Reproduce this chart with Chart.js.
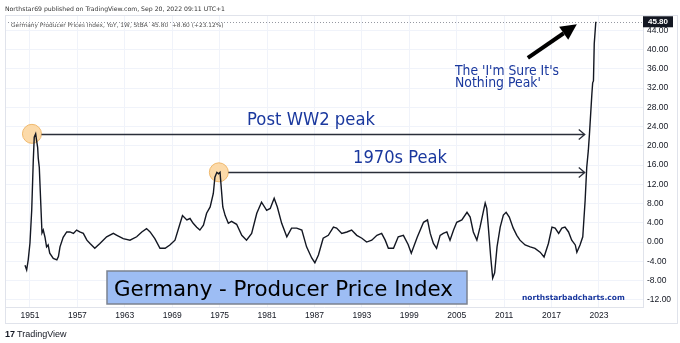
<!DOCTYPE html>
<html>
<head>
<meta charset="utf-8">
<title>Germany - Producer Price Index</title>
<script src="https://cdn.jsdelivr.net/npm/chart.js@4.4.0/dist/chart.umd.min.js"></script>
<style>
  html, body { margin: 0; padding: 0; background: #ffffff; }
  #wrap { width: 680px; height: 343px; position: relative; }
</style>
</head>
<body>
<div id="wrap"><canvas id="ppiChart" width="680" height="343"></canvas></div>
<script>
// Germany Producer Prices Index, YoY (%)
const years = [
  1950.37, 1950.58, 1950.78, 1951.0, 1951.22, 1951.42, 1951.54, 1951.72, 1951.85, 1951.97,
  1952.05, 1952.18, 1952.35, 1952.52, 1952.68, 1952.9, 1953.1, 1953.3, 1953.5, 1953.95,
  1954.4, 1954.6, 1954.8, 1955.2, 1955.65, 1956.05, 1956.5, 1956.9, 1957.3, 1957.75,
  1958.2, 1958.6, 1959.2, 1959.85, 1960.7, 1961.55, 1962.0, 1962.8, 1963.65, 1964.5,
  1965.15, 1965.75, 1966.2, 1966.8, 1967.45, 1968.1, 1968.7, 1969.35, 1970.0, 1970.3,
  1970.85, 1971.25, 1971.65, 1972.1, 1972.5, 1972.95, 1973.35, 1973.8, 1974.2, 1974.4,
  1974.65, 1974.85, 1975.05, 1975.2, 1975.4, 1975.7, 1976.1, 1976.5, 1977.15, 1977.8,
  1978.4, 1979.05, 1979.7, 1980.3, 1980.95, 1981.4, 1981.9, 1982.3, 1982.85, 1983.5,
  1984.1, 1984.75, 1985.4, 1986.0, 1986.65, 1987.05, 1987.5, 1988.1, 1988.75, 1989.4,
  1989.8, 1990.45, 1991.1, 1991.7, 1992.35, 1993.0, 1993.6, 1994.25, 1994.9, 1995.5,
  1995.95, 1996.35, 1997.0, 1997.6, 1998.25, 1998.85, 1999.25, 2000.0, 2000.8, 2001.3,
  2001.65, 2002.05, 2002.45, 2002.9, 2003.3, 2003.75, 2004.15, 2004.6, 2005.0, 2005.65,
  2006.3, 2006.7, 2007.1, 2007.55, 2007.95, 2008.4, 2008.6, 2008.8, 2009.0, 2009.3,
  2009.55, 2009.8, 2010.1, 2010.5, 2010.9, 2011.25, 2011.65, 2012.15, 2012.6, 2013.0,
  2013.65, 2014.3, 2014.9, 2015.55, 2016.05, 2016.6, 2017.05, 2017.45, 2017.9, 2018.3,
  2018.7, 2019.15, 2019.55, 2020.0, 2020.2, 2020.6, 2020.95, 2021.25, 2021.45, 2021.65,
  2021.8, 2022.1, 2022.2, 2022.3, 2022.4, 2022.6
];
const ppi = [
  -4.8, -5.8, -3.7, -0.2, 6.6, 17.0, 21.8, 22.5, 21.0, 19.7,
  17.4, 15.5, 8.7, 1.9, 2.5, 1.0, -1.0, -0.6, -2.3, -3.4,
  -3.7, -3.0, -1.0, 1.0, 2.1, 2.1, 1.8, 2.5, 2.1, 1.8,
  0.4, -0.3, -1.3, -0.3, 1.1, 1.8, 1.4, 0.7, 0.4, 1.1,
  2.1, 2.8, 2.1, 0.7, -1.3, -1.3, -0.6, 0.4, 3.9, 5.5,
  4.6, 4.9, 3.9, 3.1, 2.5, 3.5, 6.0, 7.3, 10.1, 13.5,
  14.5, 14.2, 14.5, 11.4, 7.3, 5.5, 3.9, 4.3, 3.7, 1.4,
  0.4, 1.8, 6.0, 8.3, 6.6, 7.0, 9.1, 7.3, 3.9, 1.1,
  2.9, 2.9, 2.5, -1.0, -3.3, -4.3, -2.7, 0.8, 1.4, 3.1,
  2.9, 1.8, 2.1, 2.5, 1.4, 0.8, 0.0, 0.4, 1.4, 1.8,
  0.4, -1.3, -1.3, 1.1, 1.4, -0.5, -2.3, 1.0, 4.1, 4.6,
  1.8, -0.3, -1.3, 1.4, 1.8, 2.1, 0.4, 2.5, 4.1, 4.6,
  6.2, 5.2, 2.1, 0.4, 3.1, 6.6, 8.1, 7.0, 3.1, -3.1,
  -7.5, -6.4, -1.0, 3.1, 5.6, 6.2, 5.2, 2.9, 1.4, 0.4,
  -0.6, -1.0, -1.3, -2.1, -3.1, -0.3, 3.1, 2.9, 1.8, 2.9,
  3.1, 2.1, 0.4, -0.6, -2.1, -0.6, 1.1, 8.7, 15.5, 19.0,
  22.6, 30.8, 33.1, 33.5, 41.2, 45.8
];

const yearTicks = [1951, 1957, 1963, 1969, 1975, 1981, 1987, 1993, 1999, 2005, 2011, 2017, 2023];
const priceTicks = [-12, -8, -4, 0, 4, 8, 12, 16, 20, 24, 28, 32, 36, 40, 44];
const lastValue = 45.80;

// highlighted peaks (circle centre year, level) and where their arrows end
const circleYears = [1951.25, 1974.9];
const circleLevels = [22.5, 14.5];
const arrowEndYear = 2021.2;
// thick arrow pointing at the latest reading: tail and tip
const bigArrowYears = [2014.0, 2020.2];
const bigArrowLevels = [38.3, 45.3];

const BLUE = '#1a389e';
const FONT = "'DejaVu Sans', Verdana, sans-serif";

// draw text at a given font size, squeezed sideways to the wanted width
function drawSized(ctx, text, left, baseline, width, size, weight, color) {
    ctx.save();
    ctx.font = `${weight} ${size}px ${FONT}`;
    const sx = width / ctx.measureText(text).width;
    ctx.translate(left, baseline);
    ctx.scale(sx, 1);
    ctx.fillStyle = color;
    ctx.textAlign = 'left';
    ctx.textBaseline = 'alphabetic';
    ctx.fillText(text, 0, 0);
    ctx.restore();
}

function drawFitted(ctx, text, left, baseline, width, weight, color) {
    ctx.font = `${weight} 100px ${FONT}`;
    const size = 100 * width / ctx.measureText(text).width;
    ctx.font = `${weight} ${size.toFixed(2)}px ${FONT}`;
    ctx.fillStyle = color;
    ctx.textAlign = 'left';
    ctx.textBaseline = 'alphabetic';
    ctx.fillText(text, left, baseline);
}

const annotations = {
    id: 'annotations',
    beforeDatasetsDraw(chart) {
        const { ctx, chartArea, scales: { x, y } } = chart;
        ctx.save();

        // dotted last-price line
        ctx.setLineDash([1, 2]);
        ctx.strokeStyle = '#9598a1';
        ctx.lineWidth = 1;
        ctx.beginPath();
        const ly = Math.round(y.getPixelForValue(lastValue)) + 0.5;
        ctx.moveTo(chartArea.left, ly);
        ctx.lineTo(chartArea.right, ly);
        ctx.stroke();
        ctx.setLineDash([]);

        // peak circles (under the line)
        circleYears.forEach((yr, i) => {
            ctx.beginPath();
            ctx.arc(x.getPixelForValue(yr), y.getPixelForValue(circleLevels[i]), 9.5, 0, Math.PI * 2);
            ctx.fillStyle = 'rgba(252, 214, 160, 0.9)';
            ctx.fill();
            ctx.strokeStyle = '#efb86c';
            ctx.lineWidth = 1;
            ctx.stroke();
        });
        ctx.restore();
    },
    afterDatasetsDraw(chart) {
        const { ctx, scales: { x, y } } = chart;
        ctx.save();

        // horizontal arrows from the peaks
        const endX = x.getPixelForValue(arrowEndYear);
        circleYears.forEach((yr, i) => {
            const py = Math.round(y.getPixelForValue(circleLevels[i])) + 0.5;
            const startX = x.getPixelForValue(yr) + 9.5;
            ctx.strokeStyle = '#2a2e39';
            ctx.lineWidth = 1.3;
            ctx.beginPath();
            ctx.moveTo(startX, py);
            ctx.lineTo(endX, py);
            ctx.moveTo(endX - 6, py - 5);
            ctx.lineTo(endX, py);
            ctx.lineTo(endX - 6, py + 5);
            ctx.stroke();
        });

        // thick arrow
        const tx = x.getPixelForValue(bigArrowYears[0]);
        const ty = y.getPixelForValue(bigArrowLevels[0]);
        const hx = x.getPixelForValue(bigArrowYears[1]);
        const hy = y.getPixelForValue(bigArrowLevels[1]);
        const ang = Math.atan2(hy - ty, hx - tx);
        const headLen = 16, headW = 8;
        const bx = hx - headLen * Math.cos(ang), by = hy - headLen * Math.sin(ang);
        ctx.strokeStyle = '#000';
        ctx.lineWidth = 4;
        ctx.beginPath();
        ctx.moveTo(tx, ty);
        ctx.lineTo(bx, by);
        ctx.stroke();
        ctx.fillStyle = '#000';
        ctx.beginPath();
        ctx.moveTo(hx, hy);
        ctx.lineTo(bx + headW * Math.sin(ang), by - headW * Math.cos(ang));
        ctx.lineTo(bx - headW * Math.sin(ang), by + headW * Math.cos(ang));
        ctx.closePath();
        ctx.fill();

        // texts
        drawSized(ctx, 'Post WW2 peak', 247, 125, 128, 17.5, 'normal', BLUE);
        drawSized(ctx, '1970s Peak', 353, 163, 94, 18, 'normal', BLUE);
        drawSized(ctx, "The 'I'm Sure It's", 455, 75, 104, 14.5, 'normal', BLUE);
        drawSized(ctx, "Nothing Peak'", 455, 87, 86, 14.5, 'normal', BLUE);

        // title box
        ctx.fillStyle = '#9dbdf4';
        ctx.fillRect(107, 271, 360, 33);
        ctx.strokeStyle = '#7b8290';
        ctx.lineWidth = 1.5;
        ctx.strokeRect(107, 271, 360, 33);
        drawSized(ctx, 'Germany - Producer Price Index', 114, 296, 339, 21.5, 'normal', '#000');

        drawFitted(ctx, 'northstarbadcharts.com', 522, 300, 103, 'bold', BLUE);
        ctx.restore();
    },
    afterDraw(chart) {
        const { ctx, scales: { y } } = chart;
        ctx.save();
        // panel frame
        ctx.strokeStyle = '#e0e3eb';
        ctx.lineWidth = 1;
        ctx.strokeRect(5.5, 15.5, 672, 308);

        // header and legend
        drawFitted(ctx, 'Northstar69 published on TradingView.com, Sep 20, 2022 09:11 UTC+1', 5, 11, 220, 'normal', '#333');
        drawFitted(ctx, 'Germany Producer Prices Index, YoY, 1W, StBA  45.80  +8.60 (+23.12%)', 11, 27, 213, 'normal', '#555');

        // last price label
        const ly = y.getPixelForValue(lastValue);
        ctx.fillStyle = '#131722';
        ctx.fillRect(643, ly - 5.5, 30, 11);
        ctx.fillStyle = '#fff';
        ctx.font = "bold 8px 'Liberation Sans', Arial, sans-serif";
        ctx.textAlign = 'center';
        ctx.textBaseline = 'middle';
        ctx.fillText('45.80', 658, ly + 0.5);

        // TradingView mark
        ctx.fillStyle = '#131722';
        ctx.font = "bold 9px 'Liberation Sans', Arial, sans-serif";
        ctx.textAlign = 'left';
        ctx.textBaseline = 'alphabetic';
        ctx.fillText('17', 5, 337);
        ctx.font = "normal 9px 'Liberation Sans', Arial, sans-serif";
        ctx.fillText('TradingView', 17, 337);
        ctx.restore();
    }
};

const ctx = document.getElementById('ppiChart').getContext('2d');
const ppiChart = new Chart(ctx, {
    type: 'line',
    data: {
        datasets: [{
            label: 'Germany Producer Prices Index, YoY',
            data: years.map((yr, i) => ({ x: yr, y: ppi[i] })),
            borderColor: '#131722',
            borderWidth: 1.4,
            pointRadius: 0,
            tension: 0,
            fill: false
        }]
    },
    options: {
        responsive: false,
        animation: false,
        layout: { padding: { left: 5, top: 16, right: 3, bottom: 20 } },
        plugins: {
            legend: { display: false },
            tooltip: { enabled: false }
        },
        scales: {
            x: {
                type: 'linear',
                min: 1947.84,
                max: 2028.57,
                afterBuildTicks: scale => { scale.ticks = yearTicks.map(v => ({ value: v })); },
                afterFit: scale => { scale.height = 16; },
                ticks: {
                    autoSkip: false,
                    maxRotation: 0,
                    padding: 4,
                    color: '#131722',
                    font: { family: "'Liberation Sans', Arial, sans-serif", size: 8.5 },
                    callback: v => String(v)
                },
                grid: { color: '#f0f3fa', drawTicks: false },
                border: { color: '#e0e3eb' }
            },
            y: {
                position: 'right',
                min: -13.5,
                max: 47,
                afterBuildTicks: scale => { scale.ticks = priceTicks.map(v => ({ value: v })); },
                afterFit: scale => { scale.width = 34; },
                ticks: {
                    padding: 4,
                    color: '#131722',
                    font: { family: "'Liberation Sans', Arial, sans-serif", size: 8.5 },
                    callback: v => v.toFixed(2)
                },
                grid: { color: '#f0f3fa', drawTicks: false },
                border: { color: '#e0e3eb' }
            }
        }
    },
    plugins: [annotations]
});
</script>
</body>
</html>
